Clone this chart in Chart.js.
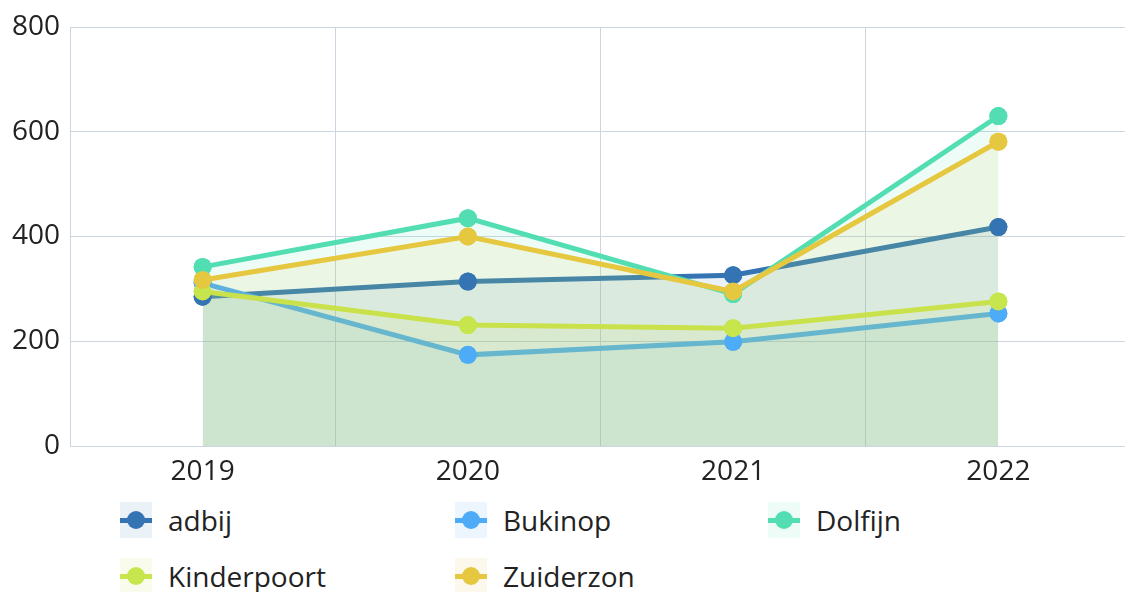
<!DOCTYPE html>
<html>
<head>
<meta charset="utf-8">
<script src="https://cdn.jsdelivr.net/npm/chart.js@4.4.1/dist/chart.umd.min.js"></script>
<style>
body{margin:0;background:#fff;font-family:"Open Sans",sans-serif;}
#wrap{position:relative;width:1125px;height:592px;overflow:hidden;}
#box{position:absolute;left:0;top:0;width:1140px;height:500px;}
.item{position:absolute;height:36px;display:flex;align-items:center;color:#222;font-size:28px;}
.mark{position:relative;width:32px;height:36px;margin-right:16px;}
.mark .ln{position:absolute;left:0;right:0;top:16px;height:5px;}
.mark .dot{position:absolute;left:7px;top:9px;width:18px;height:18px;border-radius:50%;}
</style>
</head>
<body>
<div id="wrap">
<div id="box"><canvas id="c"></canvas></div>
<div id="legend"></div>
</div>
<script>
// values
const years = ["2019","2020","2021","2022"];
const adbij = [285,314,326,418];
const bukinop = [311,174,199,253];
const dolfijn = [342,435,290,630];
const kinderpoort = [295,231,225,276];
const zuiderzon = [317,400,295,581];

const names = ["adbij","Bukinop","Dolfijn","Kinderpoort","Zuiderzon"];
const series = [adbij,bukinop,dolfijn,kinderpoort,zuiderzon];
const colors = [[53,116,179],[77,171,247],[82,222,178],[199,229,76],[229,199,64]];

const rgb = (c,a)=> a===undefined ? "rgb("+c.join(",")+")" : "rgba("+c.join(",")+","+a+")";

const datasets = series.map((d,i)=>({
  label:names[i],
  data:d,
  borderColor:rgb(colors[i]),
  backgroundColor:rgb(colors[i],0.1),
  pointBackgroundColor:rgb(colors[i]),
  pointBorderColor:rgb(colors[i]),
  pointBorderWidth:0,
  pointRadius:9,
  borderWidth:5,
  tension:0,
  fill:"origin",
  order:series.length-i
}));

// draw all points again on top, first series first
const pointsOnTop = {
  id:"pointsOnTop",
  afterDatasetsDraw(chart){
    const ctx = chart.ctx;
    for(let i=0;i<chart.data.datasets.length;i++){
      chart.getDatasetMeta(i).data.forEach(p=>p.draw(ctx,chart.chartArea));
    }
  }
};

const gridColor = "#cdd6e0";

new Chart(document.getElementById("c"),{
  type:"line",
  data:{labels:years,datasets:datasets},
  options:{
    responsive:true,
    maintainAspectRatio:false,
    animation:false,
    layout:{padding:{top:27,right:0,left:0,bottom:0}},
    plugins:{
      legend:{display:false},
      tooltip:{enabled:false},
      filler:{drawTime:"beforeDatasetDraw"}
    },
    scales:{
      x:{
        offset:true,
        grid:{color:gridColor,drawTicks:false,offset:true},
        border:{color:gridColor},
        ticks:{color:"#222",font:{family:"Open Sans",size:28},padding:9},
        afterFit(s){s.height=54;}
      },
      y:{
        min:0,max:800,
        grid:{color:gridColor,drawTicks:false},
        border:{color:gridColor},
        ticks:{stepSize:200,color:"#222",font:{family:"Open Sans",size:28},padding:10},
        afterFit(s){s.width=70;}
      }
    }
  },
  plugins:[pointsOnTop]
});

// legend in three columns
const legend = document.getElementById("legend");
const colX = [120,455,768];
const rowY = [502,558];
names.forEach((n,i)=>{
  const it = document.createElement("div");
  it.className = "item";
  it.style.left = colX[i%3]+"px";
  it.style.top = rowY[Math.floor(i/3)]+"px";
  it.innerHTML = '<div class="mark" style="background:'+rgb(colors[i],0.1)+'">'
    +'<div class="ln" style="background:'+rgb(colors[i])+'"></div>'
    +'<div class="dot" style="background:'+rgb(colors[i])+'"></div></div>'
    +'<span>'+n+'</span>';
  legend.appendChild(it);
});
</script>
</body>
</html>
